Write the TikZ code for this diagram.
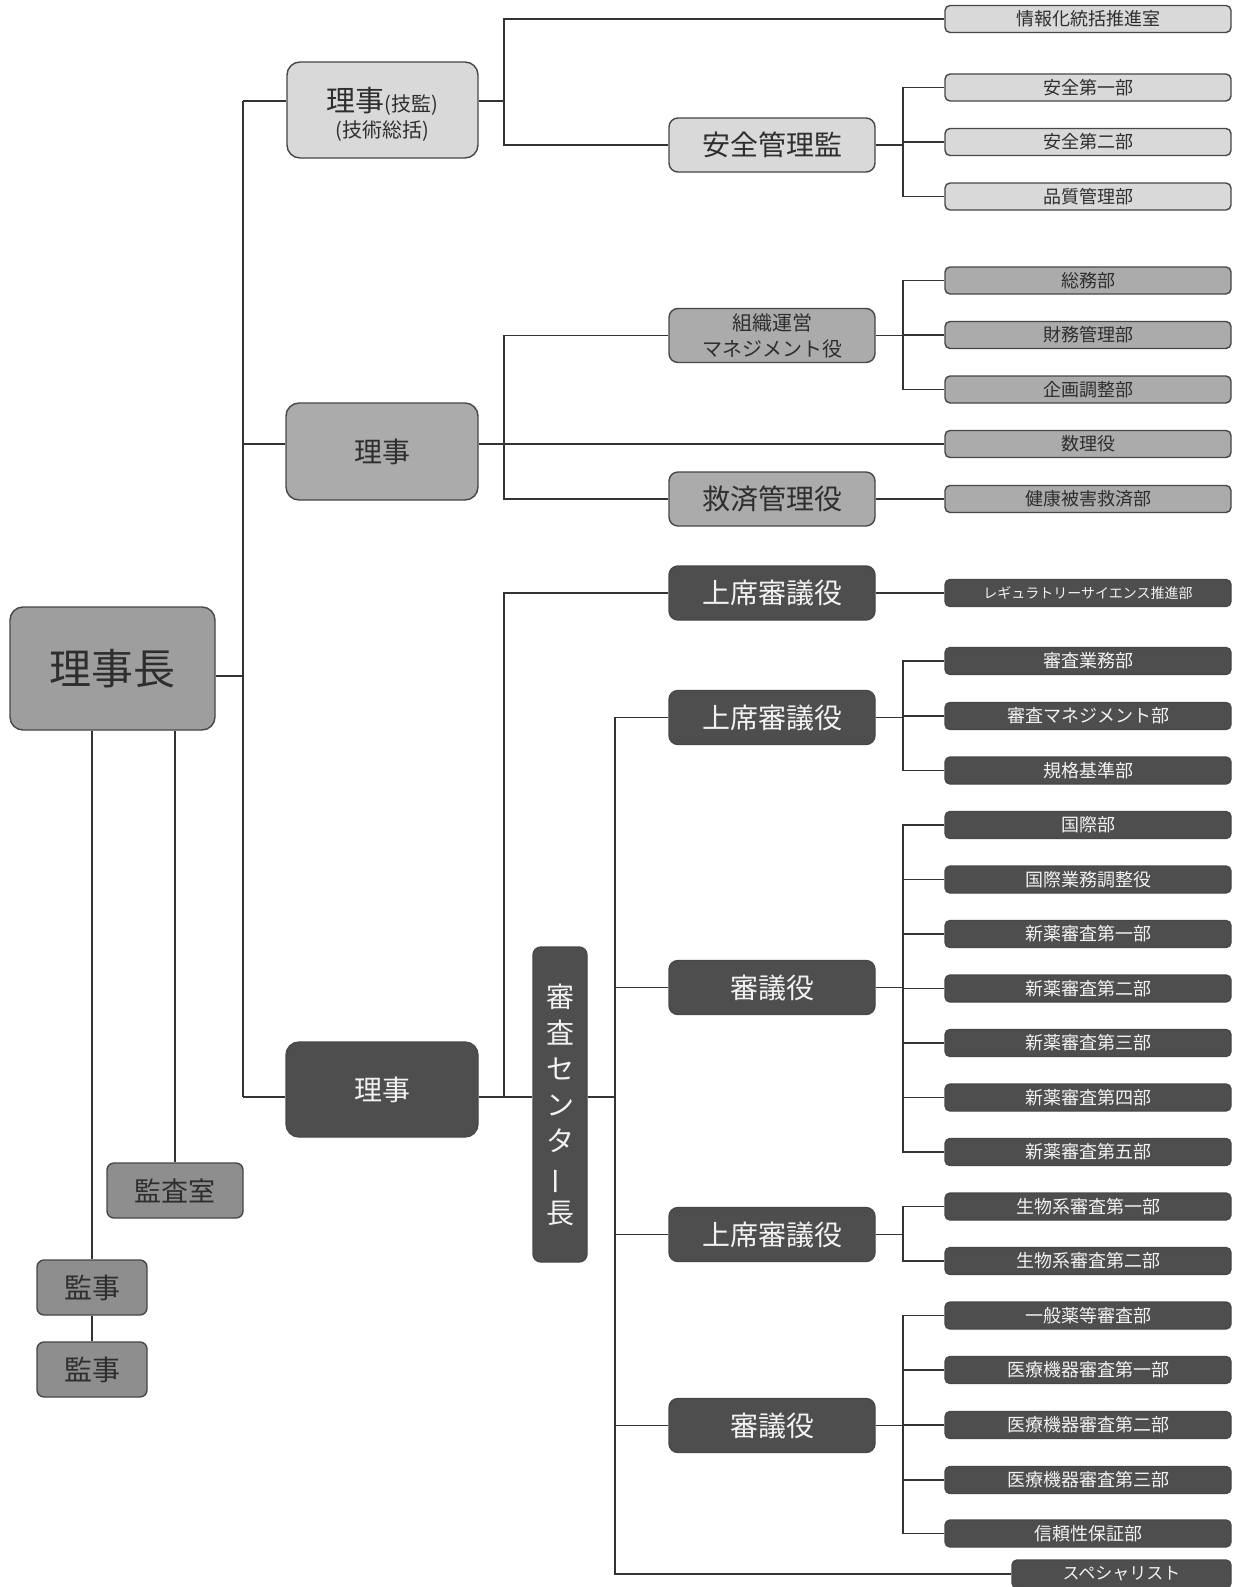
\documentclass[tikz,border=0pt]{standalone}
\usepackage{fontspec}
\setmainfont{Noto Sans CJK JP}
\definecolor{lightf}{HTML}{D9D9D9}
\definecolor{midf}{HTML}{ABABAB}
\definecolor{darkf}{HTML}{4E4E4E}
\definecolor{chairf}{HTML}{9E9E9E}
\definecolor{auditf}{HTML}{8E8E8E}
\definecolor{edgec}{HTML}{474747}
\definecolor{linec}{HTML}{333333}
\definecolor{txtd}{HTML}{2E2E2E}
\definecolor{txtl}{HTML}{F2F2F2}
\tikzset{
  base/.style={draw=edgec, line width=1.4pt, inner sep=0pt, align=center},
  bigbox/.style={base, rounded corners=13pt},
  midbox/.style={base, rounded corners=9pt, minimum width=206pt, minimum height=54pt, font=\fontsize{28}{32}\selectfont},
  deptbox/.style={base, rounded corners=5pt, minimum width=286pt, minimum height=27pt, font=\fontsize{18}{20}\selectfont},
  lt/.style={fill=lightf, text=txtd},
  md/.style={fill=midf, text=txtd},
  dk/.style={fill=darkf, text=txtl},
  conn/.style={draw=linec, line width=1.4pt},
}
\begin{document}
\begin{tikzpicture}[x=1pt,y=-1pt]
\fill[white] (0,0) rectangle (1233,1587);
\useasboundingbox (0,0) rectangle (1233,1587);

% --- left: chairman and audit ---
\node[bigbox, fill=chairf, text=txtd, minimum width=205pt, minimum height=123pt, font=\fontsize{42}{48}\selectfont] (chair) at (112.5,668.5) {理事長};
\node[bigbox, fill=auditf, text=txtd, rounded corners=7pt, minimum width=136pt, minimum height=55pt, font=\fontsize{27}{30}\selectfont] (kansa) at (175,1190.5) {監査室};
\node[bigbox, fill=auditf, text=txtd, rounded corners=7pt, minimum width=110pt, minimum height=55pt, font=\fontsize{28}{30}\selectfont] (kanji1) at (92,1287.5) {監事};
\node[bigbox, fill=auditf, text=txtd, rounded corners=7pt, minimum width=110pt, minimum height=55pt, font=\fontsize{28}{30}\selectfont] (kanji2) at (92,1369.5) {監事};

% --- directors ---
\node[bigbox, lt, minimum width=191pt, minimum height=96pt, font=\fontsize{20}{26}\selectfont] (r1) at (382.5,110) {\rule{0pt}{32pt}{\fontsize{29}{29}\selectfont 理事}(技監)\\(技術総括)};
\node[bigbox, md, minimum width=192pt, minimum height=97pt, font=\fontsize{28}{32}\selectfont] (r2) at (382,451.5) {理事};
\node[bigbox, dk, minimum width=192pt, minimum height=95pt, font=\fontsize{28}{32}\selectfont] (r3) at (382,1089.5) {理事};

% --- review center head (vertical) ---
\node[bigbox, dk, rounded corners=8pt, minimum width=54pt, minimum height=315pt, font=\fontsize{28}{36}\selectfont] (shinsa) at (560,1104.5) {審\\査\\セ\\ン\\タ\\\rotatebox[origin=c]{90}{ー}\\長};

% --- middle column ---
\node[midbox, lt] (anzen) at (772,145) {安全管理監};
\node[midbox, md, font=\fontsize{20}{26}\selectfont] (soshiki) at (772,335.5) {組織運営\\マネジメント役};
\node[midbox, md] (kyusai) at (772,499) {救済管理役};
\node[midbox, dk] (js1) at (772,593) {上席審議役};
\node[midbox, dk] (js2) at (772,717.5) {上席審議役};
\node[midbox, dk] (sg1) at (772,987.5) {審議役};
\node[midbox, dk] (js3) at (772,1234.5) {上席審議役};
\node[midbox, dk] (sg2) at (772,1425.5) {審議役};

% --- right column ---
\node[deptbox, lt] (d1) at (1088,19) {情報化統括推進室};
\node[deptbox, lt] (d2) at (1088,87.5) {安全第一部};
\node[deptbox, lt] (d3) at (1088,142) {安全第二部};
\node[deptbox, lt] (d4) at (1088,196.5) {品質管理部};
\node[deptbox, md] (d5) at (1088,280.5) {総務部};
\node[deptbox, md] (d6) at (1088,335) {財務管理部};
\node[deptbox, md] (d7) at (1088,389.5) {企画調整部};
\node[deptbox, md] (d8) at (1088,444) {数理役};
\node[deptbox, md] (d9) at (1088,499) {健康被害救済部};
\node[deptbox, dk, font=\fontsize{14}{16}\selectfont] (d10) at (1088,593) {レギュラトリーサイエンス推進部};
\node[deptbox, dk] (d11) at (1088,661) {審査業務部};
\node[deptbox, dk] (d12) at (1088,716) {審査マネジメント部};
\node[deptbox, dk] (d13) at (1088,770.5) {規格基準部};
\node[deptbox, dk] (d14) at (1088,825) {国際部};
\node[deptbox, dk] (d15) at (1088,879.5) {国際業務調整役};
\node[deptbox, dk] (d16) at (1088,934) {新薬審査第一部};
\node[deptbox, dk] (d17) at (1088,988.5) {新薬審査第二部};
\node[deptbox, dk] (d18) at (1088,1043) {新薬審査第三部};
\node[deptbox, dk] (d19) at (1088,1097.5) {新薬審査第四部};
\node[deptbox, dk] (d20) at (1088,1152) {新薬審査第五部};
\node[deptbox, dk] (d21) at (1088,1206.5) {生物系審査第一部};
\node[deptbox, dk] (d22) at (1088,1261) {生物系審査第二部};
\node[deptbox, dk] (d23) at (1088,1315.5) {一般薬等審査部};
\node[deptbox, dk] (d24) at (1088,1370) {医療機器審査第一部};
\node[deptbox, dk] (d25) at (1088,1425) {医療機器審査第二部};
\node[deptbox, dk] (d26) at (1088,1480) {医療機器審査第三部};
\node[deptbox, dk] (d27) at (1088,1533.5) {信頼性保証部};
\node[deptbox, dk, minimum width=219pt, minimum height=28pt, font=\fontsize{17}{20}\selectfont] (special) at (1121.5,1574) {スペシャリスト};

% --- junction coordinates ---
\coordinate (tA) at (243,101);
\coordinate (tB) at (243,444);
\coordinate (tC) at (243,676);
\coordinate (tD) at (243,1097);
\coordinate (bX) at (504,0);
\coordinate (cX) at (615,1097);
\coordinate (rX) at (903,0);

% trunk
\draw[conn] (tA) -- (tD);
\draw[conn] (tC -| chair.east) -- (tC);
\draw[conn] (tA) -- (tA -| r1.west);
\draw[conn] (tB) -- (tB -| r2.west);
\draw[conn] (tD) -- (tD -| r3.west);

% left audit lines
\draw[conn] (chair.south -| kanji1.north) -- (kanji1.north);
\draw[conn] (kanji1.south) -- (kanji2.north);
\draw[conn] (chair.south -| kansa.north) -- (kansa.north);

% r1 branch
\draw[conn] (tA -| r1.east) -- (tA -| bX);
\draw[conn] (d1.west) -- (d1.west -| bX) -- (anzen.west -| bX) -- (anzen.west);

% r2 branch
\draw[conn] (d8.west -| r2.east) -- (d8.west);
\draw[conn] (soshiki.west) -- (soshiki.west -| bX) -- (kyusai.west -| bX) -- (kyusai.west);

% r3 branch
\draw[conn] (tD -| r3.east) -- (tD -| shinsa.west);
\draw[conn] (tD -| bX) -- (js1.west -| bX) -- (js1.west);
\draw[conn] (cX -| shinsa.east) -- (cX);
\draw[conn] (js2.west) -- (js2.west -| cX) -- (special.west -| cX) -- (special.west);
\draw[conn] (sg1.west -| cX) -- (sg1.west);
\draw[conn] (js3.west -| cX) -- (js3.west);
\draw[conn] (sg2.west -| cX) -- (sg2.west);

% middle to right
\draw[conn] (anzen.east) -- (anzen.east -| rX);
\draw[conn] (d2.west) -- (d2.west -| rX) -- (d4.west -| rX) -- (d4.west);
\draw[conn] (d3.west -| rX) -- (d3.west);

\draw[conn] (soshiki.east) -- (soshiki.east -| rX);
\draw[conn] (d5.west) -- (d5.west -| rX) -- (d7.west -| rX) -- (d7.west);
\draw[conn] (d6.west -| rX) -- (d6.west);

\draw[conn] (kyusai.east) -- (d9.west);
\draw[conn] (js1.east) -- (d10.west);

\draw[conn] (js2.east) -- (js2.east -| rX);
\draw[conn] (d11.west) -- (d11.west -| rX) -- (d13.west -| rX) -- (d13.west);
\draw[conn] (d12.west -| rX) -- (d12.west);

\draw[conn] (sg1.east) -- (sg1.east -| rX);
\draw[conn] (d14.west) -- (d14.west -| rX) -- (d20.west -| rX) -- (d20.west);
\foreach \n in {15,16,17,18,19} \draw[conn] (d\n.west -| rX) -- (d\n.west);

\draw[conn] (js3.east) -- (js3.east -| rX);
\draw[conn] (d21.west) -- (d21.west -| rX) -- (d22.west -| rX) -- (d22.west);

\draw[conn] (sg2.east) -- (sg2.east -| rX);
\draw[conn] (d23.west) -- (d23.west -| rX) -- (d27.west -| rX) -- (d27.west);
\foreach \n in {24,25,26} \draw[conn] (d\n.west -| rX) -- (d\n.west);
\end{tikzpicture}
\end{document}
